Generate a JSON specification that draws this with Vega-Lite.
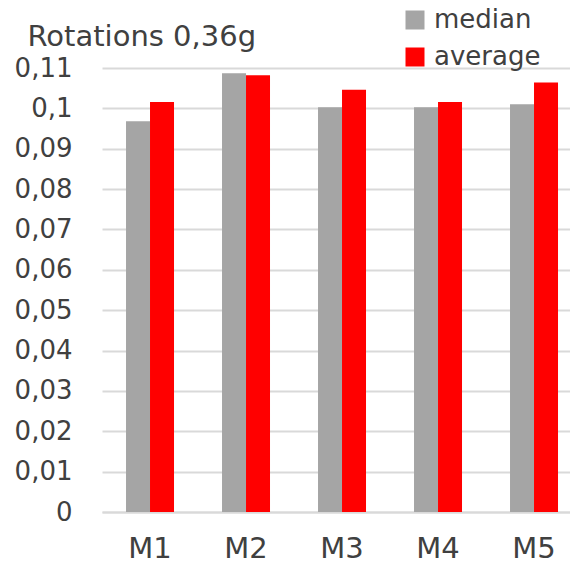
{
  "$schema": "https://vega.github.io/schema/vega-lite/v6.json",
  "autosize": "none",
  "width": 468,
  "height": 444,
  "padding": {"left": 102, "top": 68, "right": 0, "bottom": 53},
  "background": "white",
  "data": {
    "values": [
      {"model": "M1", "series": "median", "value": 0.0968},
      {"model": "M1", "series": "average", "value": 0.1016},
      {"model": "M2", "series": "median", "value": 0.1087},
      {"model": "M2", "series": "average", "value": 0.1082},
      {"model": "M3", "series": "median", "value": 0.1003},
      {"model": "M3", "series": "average", "value": 0.1046},
      {"model": "M4", "series": "median", "value": 0.1003},
      {"model": "M4", "series": "average", "value": 0.1016},
      {"model": "M5", "series": "median", "value": 0.1010},
      {"model": "M5", "series": "average", "value": 0.1064}
    ]
  },
  "mark": {"type": "bar"},
  "encoding": {
    "x": {
      "field": "model",
      "type": "nominal",
      "sort": ["M1", "M2", "M3", "M4", "M5"],
      "scale": {"paddingInner": 0.5, "paddingOuter": 0.1875, "align": 0.667},
      "axis": {
        "title": null,
        "labelAngle": 0,
        "labelFont": "DejaVu Sans",
        "labelFontSize": 29,
        "labelColor": "#404040",
        "labelPadding": 22,
        "ticks": false,
        "domainColor": "#d9d9d9",
        "domainWidth": 2,
        "grid": false
      }
    },
    "xOffset": {
      "field": "series",
      "type": "nominal",
      "sort": ["median", "average"],
      "scale": {"paddingInner": 0, "paddingOuter": 0}
    },
    "y": {
      "field": "value",
      "type": "quantitative",
      "scale": {"domain": [0, 0.11], "nice": false},
      "axis": {
        "title": "Rotations 0,36g",
        "titleAngle": 0,
        "titleX": -75,
        "titleY": -23,
        "titleAlign": "left",
        "titleBaseline": "alphabetic",
        "titleFont": "DejaVu Sans",
        "titleFontSize": 29,
        "titleFontWeight": "normal",
        "titleColor": "#404040",
        "values": [0, 0.01, 0.02, 0.03, 0.04, 0.05, 0.06, 0.07, 0.08, 0.09, 0.1, 0.11],
        "labelExpr": "replace(format(datum.value, '~g'), '.', ',')",
        "labelFont": "DejaVu Sans",
        "labelFontSize": 26,
        "labelColor": "#404040",
        "labelPadding": 30,
        "ticks": false,
        "domain": false,
        "gridColor": "#d9d9d9",
        "gridWidth": 2
      }
    },
    "color": {
      "field": "series",
      "type": "nominal",
      "scale": {"domain": ["median", "average"], "range": ["#a5a5a5", "#ff0000"]},
      "legend": {
        "title": null,
        "orient": "none",
        "legendX": 300,
        "legendY": -61,
        "padding": 0,
        "symbolType": "square",
        "symbolSize": 361,
        "symbolStrokeWidth": 0,
        "labelFont": "DejaVu Sans",
        "labelFontSize": 26,
        "labelColor": "#404040",
        "labelOffset": 6,
        "rowPadding": 11
      }
    }
  },
  "config": {
    "view": {"stroke": null}
  }
}
